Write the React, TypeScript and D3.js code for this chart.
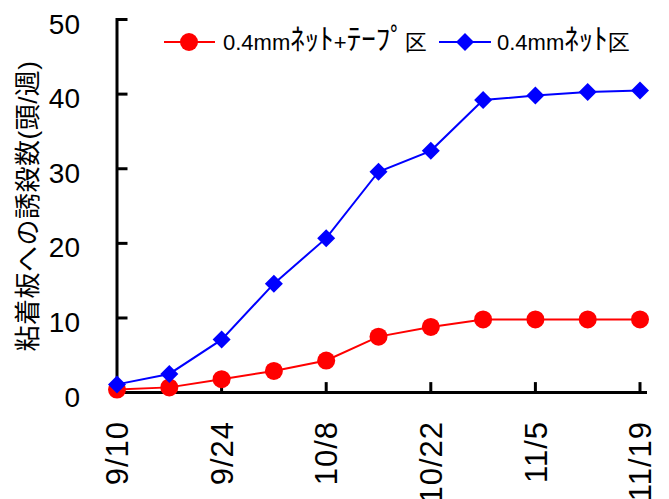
import React, { useEffect, useRef } from "react";
import * as d3 from "d3";

const dates = ["9/10", "9/17", "9/24", "10/1", "10/8", "10/15", "10/22", "10/29", "11/5", "11/12", "11/19"];
const tapeValues = [0.4, 0.7, 1.8, 2.9, 4.3, 7.5, 8.8, 9.8, 9.8, 9.8, 9.8];
const netValues = [1.1, 2.5, 7.1, 14.6, 20.7, 29.6, 32.4, 39.2, 39.8, 40.3, 40.5];
const xTickLabels = ["9/10", "9/24", "10/8", "10/22", "11/5", "11/19"];
const yTicks = [0, 10, 20, 30, 40, 50];
const seriesNames = ["0.4mmﾈｯﾄ+ﾃｰﾌﾟ区", "0.4mmﾈｯﾄ区"];
const yTitle = "粘着板への誘殺数(頭/週)";

const W = 669,
  H = 499;
const FONT = "'Liberation Sans', Arial, 'Noto Sans CJK JP', sans-serif";

// split a label into runs so half-width kana can be drawn a bit larger
function runs(s: string): { t: string; kana: boolean }[] {
  const out: { t: string; kana: boolean }[] = [];
  for (const ch of s) {
    const kana = /[\uFF61-\uFF9F]/.test(ch);
    const last = out[out.length - 1];
    if (last && last.kana === kana) last.t += ch;
    else out.push({ t: ch, kana });
  }
  return out;
}

export default function App(): JSX.Element {
  const ref = useRef<SVGSVGElement>(null);

  useEffect(() => {
    if (!ref.current) return;
    const svg = d3.select(ref.current);
    svg.selectAll("*").remove();

    const x = d3.scalePoint<string>().domain(dates).range([117, 640]);
    const y = d3.scaleLinear().domain([0, 50]).range([392.6, 19.5]);

    // axes
    const axisG = svg.append("g").attr("stroke", "#000").attr("stroke-width", 3);
    axisG
      .append("line")
      .attr("x1", x(dates[0])!)
      .attr("x2", x(dates[0])!)
      .attr("y1", y(50) - 1.5)
      .attr("y2", y(0));
    axisG
      .append("line")
      .attr("x1", x(dates[0])! - 1.5)
      .attr("x2", x(dates[dates.length - 1])! + 7)
      .attr("y1", y(0))
      .attr("y2", y(0));

    axisG
      .selectAll(".ytick")
      .data(yTicks.filter((d) => d > 0))
      .enter()
      .append("line")
      .attr("x1", x(dates[0])!)
      .attr("x2", x(dates[0])! + 10.5)
      .attr("y1", (d) => y(d))
      .attr("y2", (d) => y(d));

    axisG
      .selectAll(".xtick")
      .data(xTickLabels.slice(1))
      .enter()
      .append("line")
      .attr("x1", (d) => x(d)!)
      .attr("x2", (d) => x(d)!)
      .attr("y1", y(0))
      .attr("y2", y(0) - 10.5);

    svg
      .selectAll(".ylab")
      .data(yTicks)
      .enter()
      .append("text")
      .attr("x", 80)
      .attr("y", (d) => y(d))
      .attr("dy", "0.5em")
      .attr("text-anchor", "end")
      .attr("font-family", FONT)
      .attr("font-size", 28)
      .text((d) => d);

    svg
      .selectAll(".xlab")
      .data(xTickLabels)
      .enter()
      .append("text")
      .attr("transform", (d) => `translate(${x(d)},421) rotate(-90)`)
      .attr("dy", "0.36em")
      .attr("text-anchor", "end")
      .attr("font-family", FONT)
      .attr("font-size", 31)
      .attr("letter-spacing", 1)
      .text((d) => d);

    svg
      .append("text")
      .attr("transform", "translate(28,206) rotate(-90)")
      .attr("dy", "0.36em")
      .attr("text-anchor", "middle")
      .attr("font-family", FONT)
      .attr("font-size", 26)
      .attr("letter-spacing", 0.5)
      .text(yTitle);

    // series
    const line = d3
      .line<number>()
      .x((_, i) => x(dates[i])!)
      .y((d) => y(d));

    svg
      .append("path")
      .datum(tapeValues)
      .attr("fill", "none")
      .attr("stroke", "#FF0000")
      .attr("stroke-width", 2)
      .attr("d", line);

    svg
      .append("path")
      .datum(netValues)
      .attr("fill", "none")
      .attr("stroke", "#0000FF")
      .attr("stroke-width", 2)
      .attr("d", line);

    svg
      .selectAll(".tapeDot")
      .data(tapeValues)
      .enter()
      .append("circle")
      .attr("cx", (_, i) => x(dates[i])!)
      .attr("cy", (d) => y(d))
      .attr("r", 9)
      .attr("fill", "#FF0000");

    const diamond = d3.symbol().type(d3.symbolSquare).size(162);
    svg
      .selectAll(".netDot")
      .data(netValues)
      .enter()
      .append("path")
      .attr("d", diamond)
      .attr("transform", (d, i) => `translate(${x(dates[i])},${y(d)}) rotate(45)`)
      .attr("fill", "#0000FF");

    // legend
    const lg = svg.append("g").attr("transform", "translate(0,42)");
    const legendText = (xPos: number, name: string) => {
      const t = lg
        .append("text")
        .attr("x", xPos)
        .attr("dy", "0.36em")
        .attr("font-family", FONT)
        .attr("font-size", 22);
      runs(name).forEach((r) => {
        t.append("tspan")
          .attr("font-size", r.kana ? 29 : 22)
          .text(r.t);
      });
    };
    lg.append("line").attr("x1", 164).attr("x2", 215).attr("stroke", "#FF0000").attr("stroke-width", 2);
    lg.append("circle").attr("cx", 189).attr("r", 9).attr("fill", "#FF0000");
    legendText(223, seriesNames[0]);
    lg.append("line").attr("x1", 439).attr("x2", 491).attr("stroke", "#0000FF").attr("stroke-width", 2);
    lg.append("path").attr("d", diamond).attr("transform", "translate(465,0) rotate(45)").attr("fill", "#0000FF");
    legendText(497, seriesNames[1]);
  }, []);

  return (
    <div style={{ position: "absolute", left: 0, top: 0 }}>
      <svg ref={ref} width={W} height={H} style={{ display: "block", background: "#fff" }}></svg>
    </div>
  );
}
